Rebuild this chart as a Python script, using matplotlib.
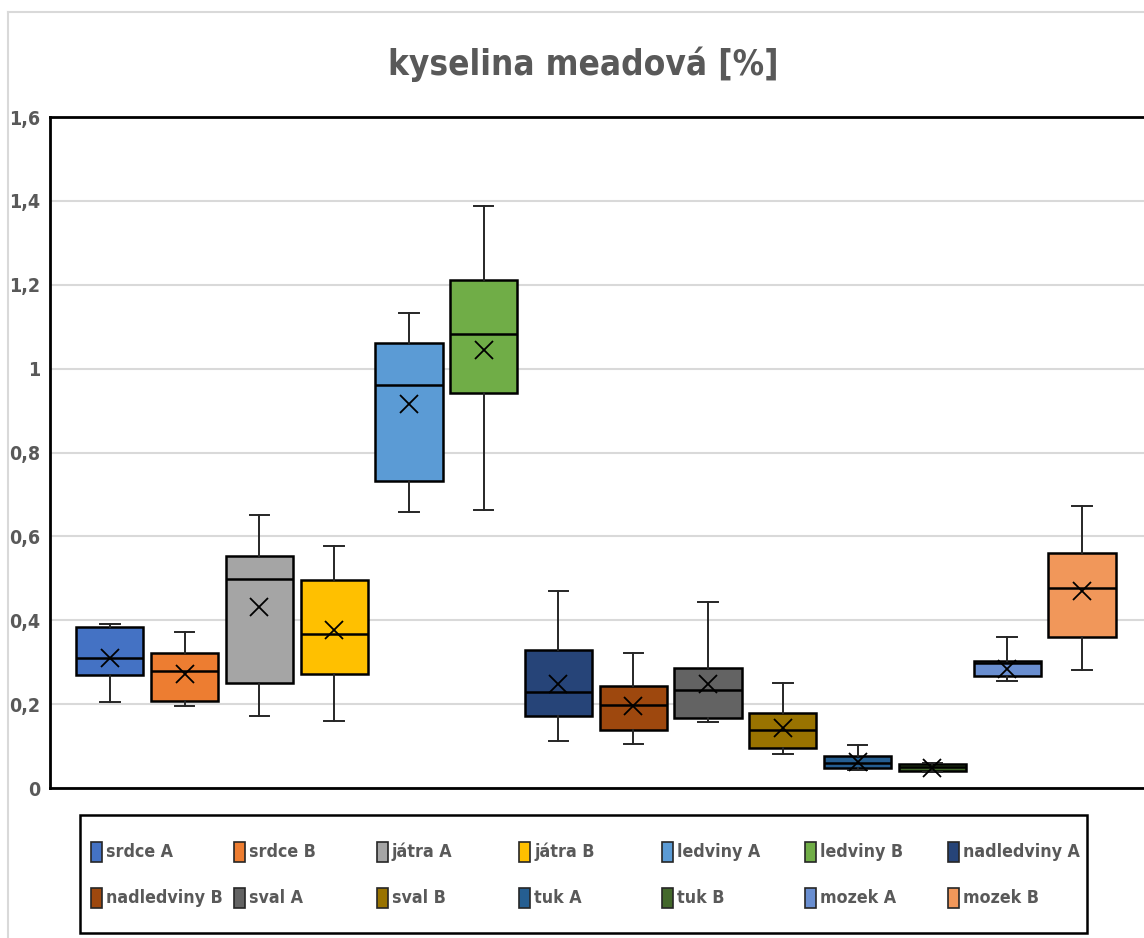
import matplotlib
matplotlib.use("Agg")
import matplotlib.pyplot as plt
from matplotlib import font_manager as fm
from matplotlib.patches import Rectangle
from matplotlib.lines import Line2D

# Data
kategorie = ['srdce A', 'srdce B', 'játra A', 'játra B', 'ledviny A', 'ledviny B',
             'nadledviny A', 'nadledviny B', 'sval A', 'sval B', 'tuk A', 'tuk B',
             'mozek A', 'mozek B']
whis_hi = [0.392, 0.373, 0.650, 0.576, 1.133, 1.387, 0.469, 0.322, 0.443, 0.251, 0.103, 0.060, 0.361, 0.673]
q3 = [0.385, 0.322, 0.553, 0.496, 1.060, 1.212, 0.330, 0.244, 0.287, 0.180, 0.077, 0.057, 0.303, 0.560]
medians = [0.309, 0.278, 0.498, 0.367, 0.962, 1.083, 0.229, 0.198, 0.233, 0.138, 0.060, 0.050, 0.298, 0.478]
q1 = [0.270, 0.208, 0.251, 0.273, 0.731, 0.943, 0.171, 0.138, 0.166, 0.095, 0.048, 0.041, 0.266, 0.361]
whis_lo = [0.205, 0.195, 0.171, 0.160, 0.657, 0.664, 0.112, 0.104, 0.158, 0.080, 0.043, 0.038, 0.254, 0.281]
means = [0.310, 0.273, 0.431, 0.377, 0.915, 1.044, 0.249, 0.196, 0.248, 0.143, 0.063, 0.048, 0.283, 0.469]

barvy = ['#4472C4', '#ED7D31', '#A5A5A5', '#FFC000', '#5B9BD5', '#70AD47', '#264478',
         '#9E480E', '#636363', '#997300', '#255E91', '#43682B', '#698ED0', '#F1975A']

yticks = [0, 0.2, 0.4, 0.6, 0.8, 1.0, 1.2, 1.4, 1.6]
ytick_labels = ['0', '0,2', '0,4', '0,6', '0,8', '1', '1,2', '1,4', '1,6']

text_color = '#595959'
W, H = 1144, 938

# use a condensed face if one is installed (the original font is narrow)
cond = fm.findfont(fm.FontProperties(family='DejaVu Sans', stretch='condensed', weight='bold'))
if 'Condensed' in cond:
    plt.rcParams['font.family'] = ['DejaVu Sans']
    plt.rcParams['font.stretch'] = 'condensed'
else:
    plt.rcParams['font.family'] = ['Liberation Sans', 'DejaVu Sans']

fig = plt.figure(figsize=(W / 100, H / 100), dpi=100)
renderer = fig.canvas.get_renderer()


def fit_size(text, target_px, start=20):
    t = fig.text(0, 0, text, fontsize=start, fontweight='bold')
    w = t.get_window_extent(renderer).width
    t.remove()
    return start * target_px / w


def fx(px):
    return px / W


def fy(px):
    return 1 - px / H


# outer chart border (light grey), cut at right/bottom
fig.add_artist(Line2D([fx(8), fx(8)], [0, fy(12)], color='#D9D9D9', lw=1.5))
fig.add_artist(Line2D([fx(8), 1], [fy(12), fy(12)], color='#D9D9D9', lw=1.5))

ax = fig.add_axes([fx(50), fy(788), 1 - fx(50), (788 - 117) / H])

stats = []
for i in range(len(kategorie)):
    stats.append({'label': kategorie[i], 'whislo': whis_lo[i], 'q1': q1[i], 'med': medians[i],
                  'q3': q3[i], 'whishi': whis_hi[i], 'mean': means[i], 'fliers': []})

pos = list(range(len(kategorie)))
bp = ax.bxp(stats, positions=pos, widths=0.9, patch_artist=True, showmeans=True,
            showfliers=False,
            boxprops=dict(edgecolor='black', linewidth=1.8),
            medianprops=dict(color='black', linewidth=1.8),
            whiskerprops=dict(color='#262626', linewidth=1.4),
            capprops=dict(color='#262626', linewidth=1.4),
            meanprops=dict(marker='x', markeredgecolor='black', markersize=13, markeredgewidth=1.3))
for patch, c in zip(bp['boxes'], barvy):
    patch.set_facecolor(c)
for cap in bp['caps']:
    x = cap.get_xdata()
    m = (x[0] + x[1]) / 2
    cap.set_xdata([m - 0.13, m + 0.13])

tick_size = fit_size('1,6', 31)
ax.set_xlim(-0.80, 13.83)
ax.set_ylim(0, 1.6)
ax.set_yticks(yticks)
ax.set_yticklabels(ytick_labels, fontsize=tick_size, fontweight='bold', color=text_color)
ax.set_xticks([])
ax.tick_params(axis='y', length=0, pad=7)
ax.yaxis.grid(True, color='#D9D9D9', linewidth=1.5)
ax.set_axisbelow(True)
for s in ['left', 'top', 'bottom']:
    ax.spines[s].set_color('black')
    ax.spines[s].set_linewidth(2)
ax.spines['right'].set_visible(False)

# title
title_size = fit_size('kyselina meadová [%]', 390)
fig.text(fx(583), fy(64), 'kyselina meadová [%]', ha='center', va='center',
         fontsize=title_size, fontweight='bold', color=text_color)

# legend: 2 rows x 7 equal columns, like the original
fig.add_artist(Rectangle((fx(80), fy(933)), fx(1087) - fx(80), fy(815) - fy(933),
                         facecolor='white', edgecolor='black', linewidth=1.8))
leg_size = fit_size('nadledviny A', 117)
for i, (name, c) in enumerate(zip(kategorie, barvy)):
    col, row = i % 7, i // 7
    x0 = 91 + col * 142.8
    yc = 852 + row * 46
    fig.add_artist(Rectangle((fx(x0), fy(yc + 10)), 11 / W, 20 / H,
                             facecolor=c, edgecolor='#262626', linewidth=1.2))
    fig.text(fx(x0 + 15), fy(yc), name, ha='left', va='center',
             fontsize=leg_size, fontweight='bold', color=text_color)

fig.savefig('out.png', dpi=100)
